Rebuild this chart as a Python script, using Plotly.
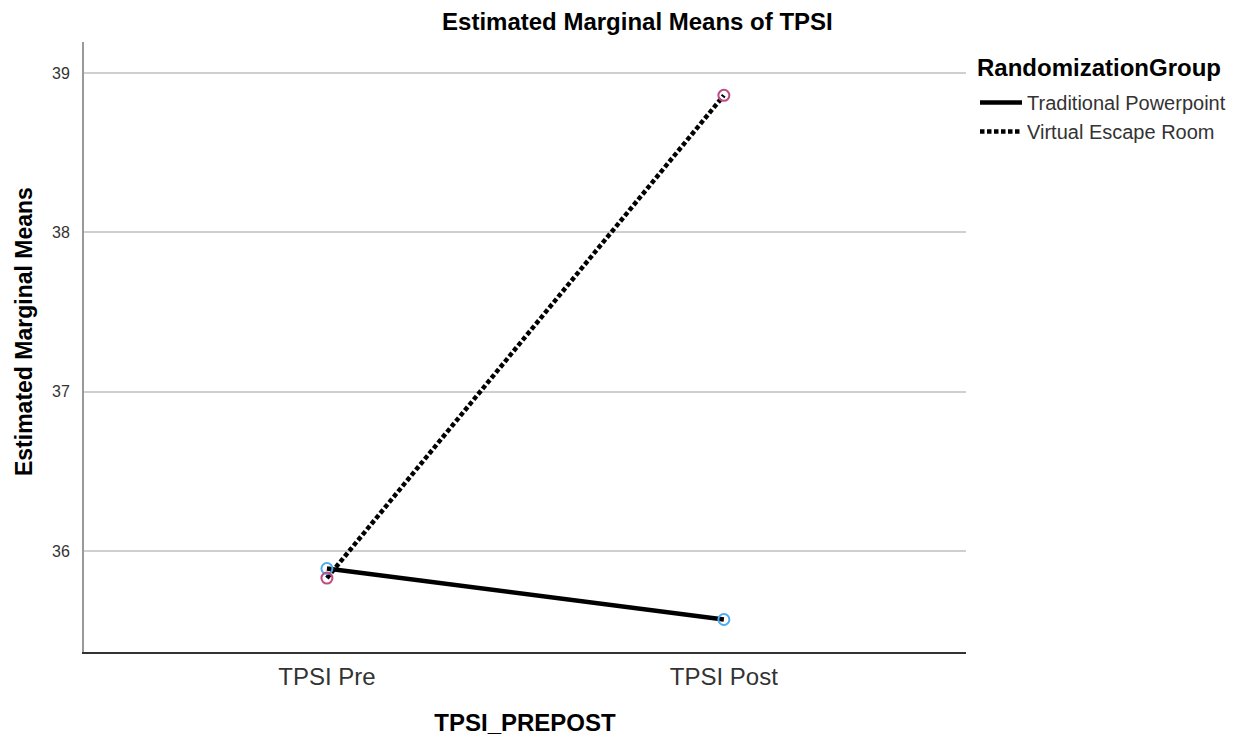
import plotly.graph_objects as go

categories = ["TPSI Pre", "TPSI Post"]
groups = ["Traditional Powerpoint", "Virtual Escape Room"]
legend_title = "RandomizationGroup"
traditional = [35.89, 35.57]
virtual = [35.83, 38.86]
y_ticks = [36, 37, 38, 39]

x_pos = [0, 1]
FONT = "Liberation Sans, Arial, sans-serif"

fig = go.Figure()

line_styles = [dict(color="black", width=4.5, dash="solid"),
               dict(color="black", width=4.5, dash="4.5px,2.5px")]
marker_colors = ["#4fabef", "#bd4b84"]
series = [traditional, virtual]

for name, vals, ls in zip(groups, series, line_styles):
    fig.add_trace(go.Scatter(x=x_pos, y=vals, mode="lines", name=name,
                             line=ls, showlegend=True))
for name, vals, mc in zip(groups, series, marker_colors):
    fig.add_trace(go.Scatter(x=x_pos, y=vals, mode="markers", name=name,
                             marker=dict(symbol="circle-open", size=11, color=mc,
                                         line=dict(width=2, color=mc)),
                             showlegend=False, hoverinfo="skip"))

fig.add_annotation(text="<b>Estimated Marginal Means</b>", textangle=-90,
                   xref="paper", yref="paper", x=-0.068, y=0.5246,
                   xanchor="center", yanchor="middle", showarrow=False,
                   font=dict(size=23, color="black", family=FONT))
fig.add_annotation(text="<b>" + legend_title + "</b>",
                   xref="paper", yref="paper", x=1.0102, y=0.959,
                   xanchor="left", yanchor="middle", showarrow=False,
                   font=dict(size=24, color="black", family=FONT))

fig.update_layout(
    width=1239, height=740,
    paper_bgcolor="white", plot_bgcolor="white",
    margin=dict(l=76, r=281, t=34, b=96),
    font=dict(family=FONT, color="#222"),
    title=dict(text="<b>Estimated Marginal Means of TPSI</b>", x=0.508, xanchor="center",
               y=0.981, yanchor="middle", font=dict(size=24, color="black")),
    xaxis=dict(range=[-0.612, 1.61], tickvals=x_pos, ticktext=categories,
               showgrid=False, zeroline=False, showline=True, linecolor="#333",
               linewidth=1.5, ticks="", ticklabelstandoff=2,
               tickfont=dict(size=24, color="#333"),
               title=dict(text="<b>TPSI_PREPOST</b>", font=dict(size=24, color="black"),
                          standoff=26)),
    yaxis=dict(range=[35.366, 39.195], tickvals=y_ticks, showgrid=True,
               gridcolor="#cfcfcf", gridwidth=1.5, zeroline=False, showline=True,
               linecolor="#999", linewidth=2, ticks="", ticklabelstandoff=9,
               tickfont=dict(size=16, color="#333")),
    legend=dict(x=1.0102, y=0.9326, xanchor="left", yanchor="top",
                font=dict(size=20, color="#333"), tracegroupgap=0,
                itemwidth=42, bgcolor="rgba(0,0,0,0)"),
)

fig.write_html("out.html")
